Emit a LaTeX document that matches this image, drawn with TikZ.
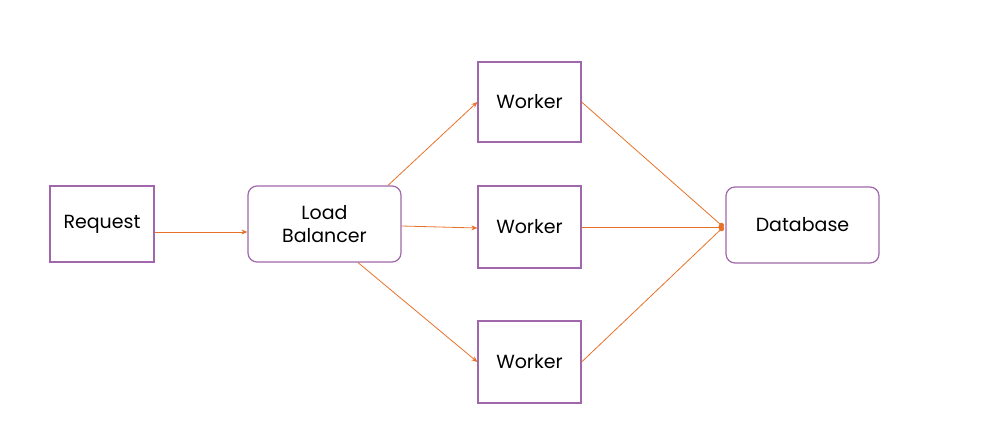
\documentclass[tikz,border=0pt]{standalone}
\usepackage{fontspec}
\setmainfont{Poppins}
\usetikzlibrary{arrows.meta}
\definecolor{boxpurple}{HTML}{A067AA}
\definecolor{lineorange}{HTML}{E8712A}
\tikzset{
  box/.style={draw=boxpurple, line width=1.2pt, fill=white, inner sep=0pt, align=center, font=\fontsize{19}{23}\selectfont},
  sqbox/.style={box},
  rbox/.style={box, rounded corners=9pt},
  conn/.style={draw=lineorange, line width=0.8pt, -{Stealth[length=6pt,width=5pt]}},
  dbconn/.style={draw=lineorange, line width=0.8pt, -{Circle[length=5pt,width=5pt]}},
}
\begin{document}
\begin{tikzpicture}[x=1pt,y=-1pt]
\useasboundingbox (0,0) rectangle (983,447);
\node[sqbox, minimum width=104pt, minimum height=76pt] (req) at (102,224) {Request};
\node[rbox, minimum width=153pt, minimum height=76pt] (lb) at (324.5,224) {Load\\Balancer};
\node[sqbox, minimum width=103pt, minimum height=80pt] (w1) at (529.5,102) {Worker};
\node[sqbox, minimum width=103pt, minimum height=82pt] (w2) at (529.5,227) {Worker};
\node[sqbox, minimum width=103pt, minimum height=82pt] (w3) at (529.5,362) {Worker};
\node[rbox, minimum width=153pt, minimum height=76pt] (db) at (802.5,225) {Database};
\draw[conn] (req.east |- 0,232) -- (lb.west |- 0,232);
\draw[conn] (lb.north -| 388,0) -- (w1.west);
\draw[conn] (lb.east |- 0,226) -- (w2.west |- 0,228);
\draw[conn] (lb.south -| 358,0) -- (w3.west);
\coordinate (dbin) at ([xshift=-2pt]db.west |- 0,227);
\draw[dbconn] (w1.east) -- (dbin);
\draw[dbconn] (w2.east) -- (dbin);
\draw[dbconn] (w3.east) -- (dbin);
\end{tikzpicture}
\end{document}
